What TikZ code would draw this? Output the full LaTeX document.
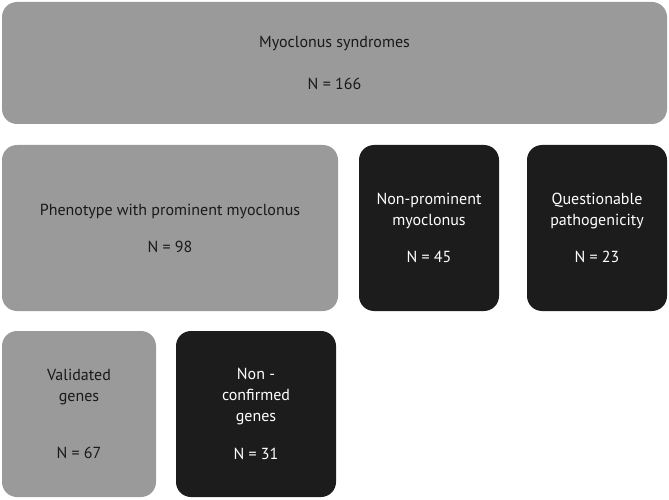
\documentclass[tikz,border=0pt]{standalone}
\usepackage{fontspec}
\setmainfont{PT Sans}
\definecolor{boxgrey}{HTML}{9A9A9A}
\definecolor{boxdark}{HTML}{1C1C1C}

\begin{document}
\begin{tikzpicture}[x=1pt, y=-1pt,
    box/.style={rectangle, rounded corners=15pt, inner sep=0pt, align=center,
                font=\fontsize{16}{21}\selectfont},
    greybox/.style={box, fill=boxgrey, text=black!90},
    darkbox/.style={box, fill=boxdark, text=white}]
            \useasboundingbox (0,0) rectangle (669,500);

            \node[greybox, minimum width=665pt, minimum height=122pt] (all) at (334.5,63) {Myoclonus syndromes\\[21pt] N = 166};
            \node[greybox, minimum width=336pt, minimum height=166pt] (prom) at (170,228) {Phenotype with prominent myoclonus\\[16pt] N = 98};
            \node[darkbox, minimum width=140pt, minimum height=166pt] (nonprom) at (429,228) {Non-prominent\\ myoclonus\\[16pt] N = 45};
            \node[darkbox, minimum width=140pt, minimum height=166pt] (quest) at (597,228) {Questionable\\ pathogenicity\\[16pt] N = 23};
            \node[greybox, minimum width=154pt, minimum height=166pt] (valid) at (79,414) {Validated\\ genes\\[36pt] N = 67};
            \node[darkbox, minimum width=160pt, minimum height=166pt] (nonconf) at (256,414) {Non -\\ confirmed\\ genes\\[17pt] N = 31};
        \end{tikzpicture}
\end{document}
